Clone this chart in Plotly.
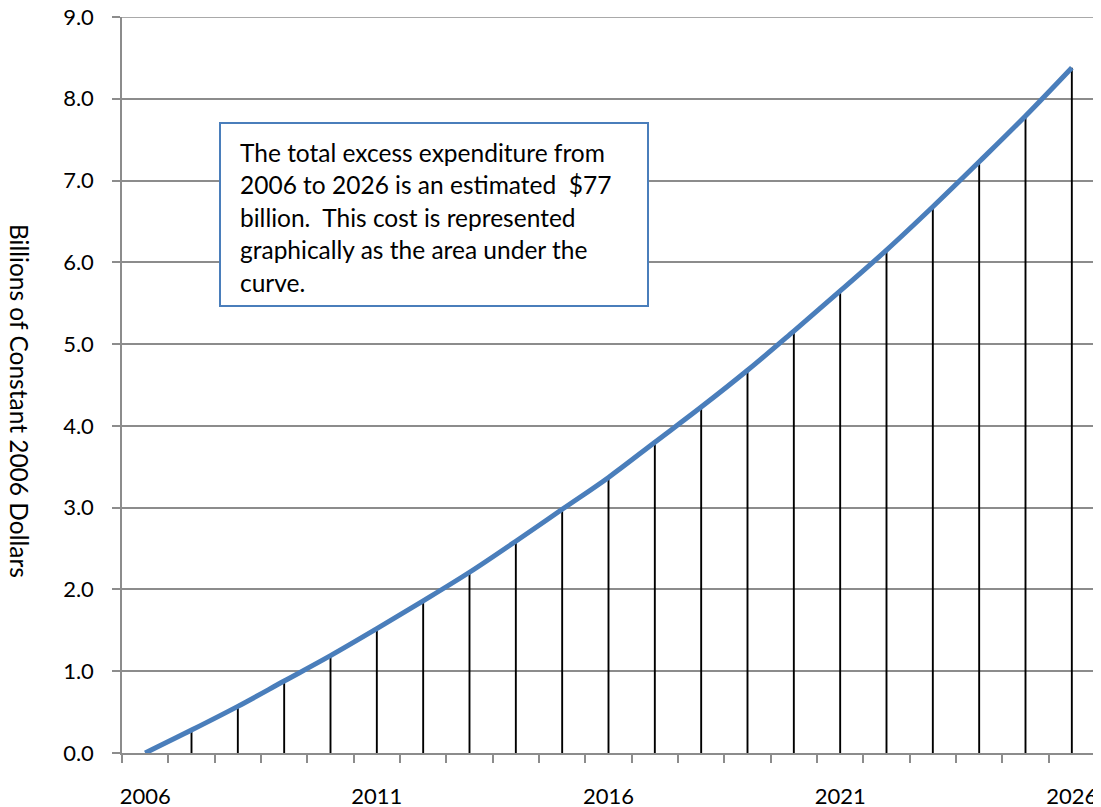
import plotly.graph_objects as go

years = list(range(2006, 2027))
values = [0.00, 0.28, 0.57, 0.88, 1.19, 1.52, 1.86, 2.21, 2.59, 2.98, 3.37,
          3.80, 4.23, 4.68, 5.16, 5.65, 6.15, 6.68, 7.23, 7.79, 8.38]
x_tick_vals = [2006, 2011, 2016, 2021, 2026]
y_tick_vals = [0, 1, 2, 3, 4, 5, 6, 7, 8, 9]
y_title = "Billions of Constant 2006 Dollars"
box_lines = [
    "The total excess expenditure from",
    "2006 to 2026 is an estimated  $77",
    "billion.  This cost is represented",
    "graphically as the area under the",
    "curve.",
]

FONT = "Lato"
GRAY = "#8c8c8c"
BLUE = "#4a7ebb"

OFF = 8  # page body margin
W, H = 1101 - OFF, 807 - OFF
L, R, T, B = 122 - OFF, 6, 17 - OFF, 54
PW, PH = W - L - R, H - T - B

def px_x(p):
    return (p - OFF - L) / PW

def px_y(p):
    return (T + PH - (p - OFF)) / PH

# drop lines
dx, dy = [], []
for yr, v in zip(years[1:], values[1:]):
    dx += [yr, yr, None]
    dy += [0, v, None]

fig = go.Figure()
fig.add_trace(go.Scatter(x=dx, y=dy, mode="lines",
                         line=dict(color="black", width=1.9),
                         hoverinfo="skip", showlegend=False))
fig.add_trace(go.Scatter(x=years, y=values, mode="lines",
                         line=dict(color=BLUE, width=5, shape="spline"),
                         showlegend=False))

fig.update_layout(
    width=W, height=H,
    margin=dict(l=L, r=R, t=T, b=B, autoexpand=False),
    paper_bgcolor="white", plot_bgcolor="white",
    font=dict(family=FONT, size=22, color="black"),
    showlegend=False,
)
fig.update_xaxes(
    range=[2005.5, 2026.5], tickvals=x_tick_vals,
    ticktext=[str(v) for v in x_tick_vals],
    ticks="outside", ticklen=0, tickcolor=GRAY,
    showgrid=False, zeroline=False, automargin=False,
    showline=True, linecolor=GRAY, linewidth=1.5,
    ticklabelstandoff=23, ticklabeloverflow="allow",
    minor=dict(ticks="outside", ticklen=8, tickcolor=GRAY, tickwidth=1.5,
               tick0=2005.5, dtick=1, showgrid=False),
)
fig.update_yaxes(
    range=[0, 9], tickvals=y_tick_vals,
    ticktext=[f"{v:.1f}" for v in y_tick_vals],
    ticks="outside", ticklen=8, tickcolor=GRAY, tickwidth=1.5,
    showgrid=True, gridcolor=GRAY, gridwidth=1.5, zeroline=False,
    showline=True, linecolor=GRAY, linewidth=1.5, automargin=False,
    ticklabelstandoff=14, ticklabeloverflow="allow",
)

# top gridline (Plotly omits the gridline lying on the plot edge)
fig.add_hline(y=y_tick_vals[-1], line=dict(color=GRAY, width=1.5), layer="below")

fig.add_annotation(x=px_x(20), y=px_y(401), xref="paper", yref="paper",
                   text=y_title, textangle=90, showarrow=False,
                   font=dict(family=FONT, size=24.5, color="black"),
                   xanchor="center", yanchor="middle")

fig.add_shape(type="rect", xref="paper", yref="paper",
              x0=px_x(220), x1=px_x(648), y0=px_y(306), y1=px_y(123),
              line=dict(color=BLUE, width=2), fillcolor="white", layer="above")

for i, line in enumerate(box_lines):
    fig.add_annotation(x=px_x(238), y=px_y(152 + 32.5 * i),
                       xref="paper", yref="paper", text=line,
                       showarrow=False, xanchor="left", yanchor="middle",
                       font=dict(family=FONT, size=24.5, color="black"))

fig.write_html("out.html")
